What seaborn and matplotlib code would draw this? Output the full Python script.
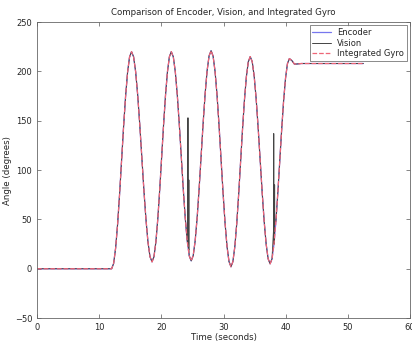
import numpy as np
import pandas as pd
import seaborn as sns
from matplotlib import pyplot as plt

# time (s) and angle (deg)
time_s = [0.0, 12.0, 12.32, 12.64, 12.96, 13.28, 13.6, 13.92, 14.24, 14.56, 14.88, 15.2,
          15.53, 15.86, 16.19, 16.52, 16.85, 17.18, 17.51, 17.84, 18.17, 18.5,
          18.81, 19.12, 19.43, 19.74, 20.05, 20.36, 20.67, 20.98, 21.29, 21.6,
          21.92, 22.24, 22.56, 22.88, 23.2, 23.52, 23.84, 24.16, 24.48, 24.8,
          25.12, 25.44, 25.76, 26.08, 26.4, 26.72, 27.04, 27.36, 27.68, 28.0,
          28.32, 28.64, 28.96, 29.28, 29.6, 29.92, 30.24, 30.56, 30.88, 31.2,
          31.51, 31.82, 32.13, 32.44, 32.75, 33.06, 33.37, 33.68, 33.99, 34.3,
          34.62, 34.94, 35.26, 35.58, 35.9, 36.22, 36.54, 36.86, 37.18, 37.5,
          37.81, 38.12, 38.43, 38.74, 39.05, 39.36, 39.67, 39.98, 40.29, 40.6,
          41.0, 41.4, 41.8, 42.5, 52.5]
angle_deg = [0, 0, 5.4, 21.0, 45.4, 76.0, 110, 144.0, 174.6, 199.0, 214.6, 220,
             214.8, 199.7, 176.1, 146.4, 113.5, 80.6, 50.9, 27.3, 12.2, 7,
             12.2, 27.3, 50.9, 80.6, 113.5, 146.4, 176.1, 199.7, 214.8, 220,
             214.8, 199.8, 176.3, 146.8, 114, 81.2, 51.7, 28.2, 13.2, 8,
             13.2, 28.3, 51.9, 81.6, 114.5, 147.4, 177.1, 200.7, 215.8, 221,
             215.6, 200.1, 175.9, 145.3, 111.5, 77.7, 47.1, 22.9, 7.4, 2,
             7.2, 22.3, 45.9, 75.6, 108.5, 141.4, 171.1, 194.7, 209.8, 215,
             209.9, 194.9, 171.7, 142.4, 110, 77.6, 48.3, 25.1, 10.1, 5,
             10.1, 24.9, 47.9, 76.9, 109, 141.1, 170.1, 193.1, 207.9, 213,
             211, 207.5, 207.5, 208, 208]

# vision glitches
spike_t = [24.26, 24.28, 24.30, 24.40, 24.42, 24.44, 38.06, 38.08, 38.10, 38.20, 38.22, 38.24]
spike_v = [25, 153, 24, 19, 90, 18, 40, 137, 42, 46, 85, 48]

enc = pd.DataFrame({"t": time_s, "a": angle_deg})
vis = pd.concat([enc, pd.DataFrame({"t": spike_t, "a": spike_v})]).sort_values("t")
gyro = enc.copy()

sns.set_style("ticks")
plt.rcParams["font.family"] = ["DejaVu Sans"]
plt.rcParams["xtick.direction"] = "in"
plt.rcParams["ytick.direction"] = "in"

fig = plt.figure(figsize=(4.12, 3.45), dpi=100)
ax = fig.add_axes([0.09, 0.078, 0.905, 0.858])
sns.lineplot(data=enc, x="t", y="a", ax=ax, color="#7777ee", lw=0.9, label="Encoder", sort=False)
sns.lineplot(data=vis, x="t", y="a", ax=ax, color="#444444", lw=0.7, label="Vision", sort=False)
sns.lineplot(data=gyro, x="t", y="a", ax=ax, color="#ee6677", lw=0.9, ls="--", label="Integrated Gyro", sort=False)

ax.set_xlim(0, 60)
ax.set_ylim(-50, 250)
ax.set_xticks(range(0, 61, 10))
ax.set_yticks(range(-50, 251, 50))
ax.tick_params(labelsize=6, length=3, width=0.5, top=True, right=True, color="#555555")
for s in ax.spines.values():
    s.set_linewidth(0.6)
    s.set_color("#666666")
ax.set_title("Comparison of Encoder, Vision, and Integrated Gyro", fontsize=6.2, pad=5)
ax.set_xlabel("Time (seconds)", fontsize=6.2, labelpad=1)
ax.set_ylabel("Angle (degrees)", fontsize=6.2, labelpad=2)
leg = ax.legend(loc="upper right", fontsize=6, frameon=True, fancybox=False,
                borderpad=0.3, handlelength=2.2, labelspacing=0.2, borderaxespad=0.4)
leg.get_frame().set_edgecolor("#555555")
leg.get_frame().set_linewidth(0.6)

fig.savefig("out.png", dpi=100)
